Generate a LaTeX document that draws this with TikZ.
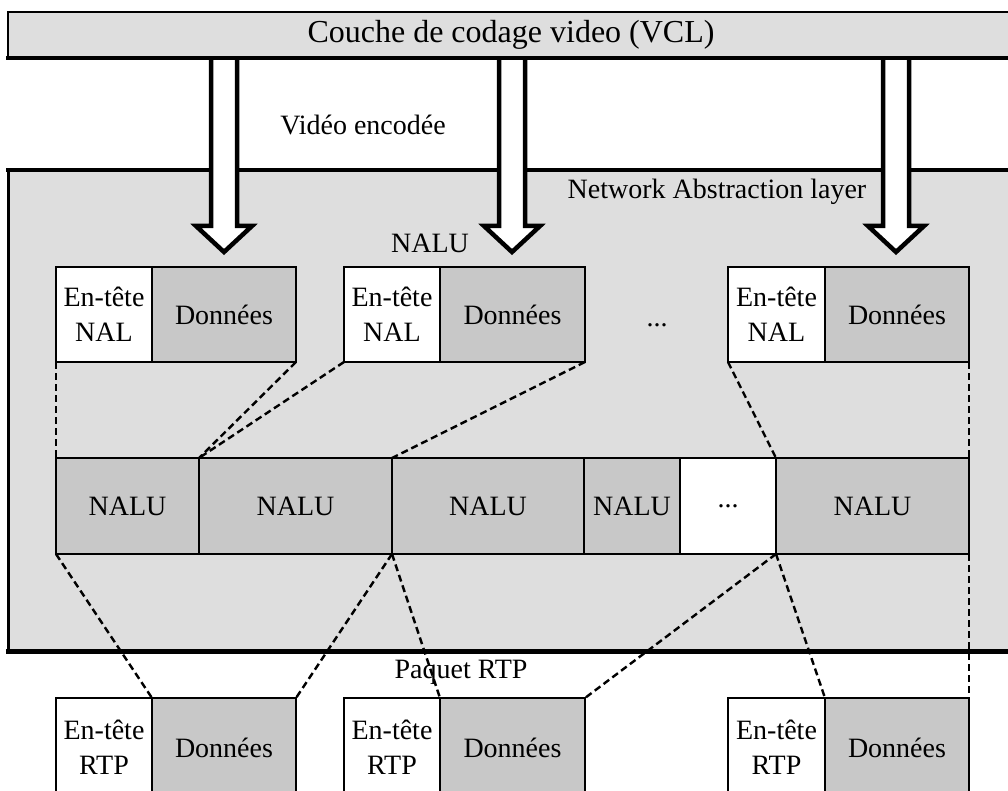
\documentclass[tikz,border=0pt]{standalone}
\usepackage{fontspec}
\setmainfont{Liberation Serif}
\usetikzlibrary{calc}
\definecolor{bargray}{HTML}{DEDEDE}
\definecolor{cellgray}{HTML}{C8C8C8}
\begin{document}
\begin{tikzpicture}[x=1pt,y=-1pt,
  cell/.style={draw,line width=2.4pt,rectangle,inner sep=0pt,outer sep=0pt,minimum height=95pt,align=center,font=\fontsize{28}{35}\selectfont},
  hdr/.style={cell,fill=white},
  dat/.style={cell,fill=cellgray},
  link/.style={dash pattern=on 7pt off 4pt,line width=2.4pt},
  bigarrow/.style={draw,fill=white,line width=4.5pt,line join=miter},
  lbl/.style={font=\fontsize{28}{33}\selectfont,inner sep=0pt}]
\useasboundingbox (0,0) rectangle (1008,791);
\clip (0,0) rectangle (1008,791);
% VCL bar
\fill[bargray] (8,12) rectangle (1012,58);
\draw[line width=2.4pt] (1012,12) -- (8,12) -- (8,58);
\node[inner sep=0pt,font=\fontsize{32}{36}\selectfont] (vcl) at (511,35) {Couche de codage video (VCL)};
% NAL region
\fill[bargray] (8,170) rectangle (1012,651);
\draw[line width=4.5pt] (1012,170) -- (6,170);
\draw[line width=3pt] (8,170) -- (8,651);
\draw[line width=5pt] (6,651) -- (1012,651);
\node[lbl] (nal) at (717,192) {Network Abstraction layer};
\node[lbl] (vid) at (363,125) {Vidéo encodée};
% big arrows
\foreach \n/\c in {a1/224,a2/512,a3/896}{
  \coordinate (\n) at (\c,60);
  \draw[bigarrow] ($(\n)+(-13,0)$) -- ($(\n)+(-13,166)$) -- ($(\n)+(-28,166)$) -- ($(\n)+(0,192)$) -- ($(\n)+(28,166)$) -- ($(\n)+(13,166)$) -- ($(\n)+(13,0)$);
}
\draw[line width=4.5pt] (6,58) -- (1012,58);
% NAL units
\node[lbl] (nalulbl) at (430,243) {NALU};
\node[hdr,minimum width=96pt] (h1) at (104,314.5) {En-tête\\NAL};
\node[dat,minimum width=144pt] (d1) at (224,314.5) {Données};
\node[hdr,minimum width=96pt] (h2) at (392,314.5) {En-tête\\NAL};
\node[dat,minimum width=145pt] (d2) at (512.5,314.5) {Données};
\node[lbl,anchor=base] (dots1) at (657,326) {...};
\node[hdr,minimum width=97pt] (h3) at (776.5,314.5) {En-tête\\NAL};
\node[dat,minimum width=144pt] (d3) at (897,314.5) {Données};
% NALU stream
\node[dat,minimum width=143pt,minimum height=96pt] (n1) at (127.5,506) {NALU};
\node[dat,minimum width=193pt,minimum height=96pt] (n2) at (295.5,506) {NALU};
\node[dat,minimum width=192pt,minimum height=96pt] (n3) at (488,506) {NALU};
\node[dat,minimum width=96pt,minimum height=96pt] (n4) at (632,506) {NALU};
\node[hdr,minimum width=96pt,minimum height=96pt] (n5) at (728,506) {...};
\node[dat,minimum width=193pt,minimum height=96pt] (n6) at (872.5,506) {NALU};
% RTP packets
\node[lbl] (rtplbl) at (461,672) {Paquet RTP};
\node[hdr,minimum width=96pt,minimum height=99pt] (r1) at (104,747.5) {En-tête\\RTP};
\node[dat,minimum width=144pt,minimum height=99pt] (rd1) at (224,747.5) {Données};
\node[hdr,minimum width=96pt,minimum height=99pt] (r2) at (392,747.5) {En-tête\\RTP};
\node[dat,minimum width=145pt,minimum height=99pt] (rd2) at (512.5,747.5) {Données};
\node[hdr,minimum width=97pt,minimum height=99pt] (r3) at (776.5,747.5) {En-tête\\RTP};
\node[dat,minimum width=144pt,minimum height=99pt] (rd3) at (897,747.5) {Données};
% dashed links
\draw[link] (h1.south west) -- (n1.north west);
\draw[link] (d1.south east) -- (n2.north west);
\draw[link] (h2.south west) -- (n2.north west);
\draw[link] (d2.south east) -- (n3.north west);
\draw[link] (h3.south west) -- (n6.north west);
\draw[link] (d3.south east) -- (n6.north east);
\draw[link] (n1.south west) -- (rd1.north west);
\draw[link] (n3.south west) -- (rd1.north east);
\draw[link] (n3.south west) -- (rd2.north west);
\draw[link] (n6.south west) -- (rd2.north east);
\draw[link] (n6.south west) -- (rd3.north west);
\draw[link] (n6.south east) -- (rd3.north east);
\end{tikzpicture}
\end{document}
